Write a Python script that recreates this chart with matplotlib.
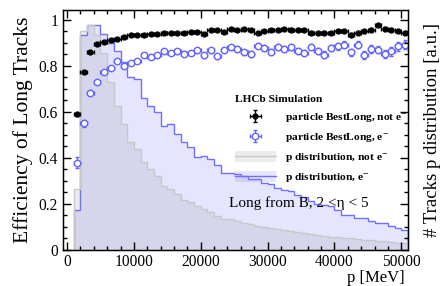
import numpy as np
import matplotlib
matplotlib.use("Agg")
import matplotlib.pyplot as plt
from matplotlib.patches import Patch
from matplotlib.lines import Line2D
from matplotlib.legend_handler import HandlerTuple
from matplotlib.ticker import MultipleLocator, NullFormatter

plt.rcParams["font.family"] = ["Liberation Serif", "DejaVu Serif"]
plt.rcParams["mathtext.fontset"] = "stix"

# momentum bins [MeV]
bin_edges = np.arange(1000, 52000, 1000)
bin_centres = 0.5 * (bin_edges[:-1] + bin_edges[1:])

# efficiency, not electrons
eff_not_e = [0.589, 0.775, 0.859, 0.897, 0.904, 0.911, 0.917, 0.925, 0.935, 0.935,
             0.935, 0.938, 0.940, 0.943, 0.943, 0.943, 0.945, 0.948, 0.948, 0.940,
             0.958, 0.955, 0.948, 0.962, 0.957, 0.962, 0.958, 0.943, 0.953, 0.955,
             0.957, 0.960, 0.958, 0.958, 0.955, 0.945, 0.943, 0.945, 0.943, 0.952,
             0.952, 0.935, 0.945, 0.950, 0.958, 0.976, 0.962, 0.958, 0.952, 0.943]
err_not_e = [0.008, 0.005, 0.004, 0.003, 0.003, 0.003, 0.003, 0.003, 0.003, 0.003,
             0.003, 0.003, 0.003, 0.003, 0.003, 0.003, 0.003, 0.003, 0.003, 0.003,
             0.004, 0.004, 0.004, 0.004, 0.004, 0.004, 0.004, 0.004, 0.004, 0.004,
             0.005, 0.005, 0.005, 0.005, 0.005, 0.005, 0.005, 0.005, 0.005, 0.005,
             0.006, 0.006, 0.006, 0.006, 0.006, 0.006, 0.006, 0.006, 0.006, 0.006]

# efficiency, electrons
eff_e = [0.380, 0.550, 0.684, 0.730, 0.773, 0.792, 0.820, 0.800, 0.813, 0.820,
         0.847, 0.838, 0.849, 0.863, 0.857, 0.863, 0.853, 0.857, 0.868, 0.846,
         0.868, 0.842, 0.868, 0.882, 0.874, 0.859, 0.852, 0.888, 0.878, 0.860,
         0.882, 0.874, 0.882, 0.864, 0.857, 0.882, 0.865, 0.849, 0.878, 0.885,
         0.892, 0.859, 0.892, 0.849, 0.874, 0.871, 0.853, 0.863, 0.885, 0.892]
err_e = [0.025, 0.015, 0.010, 0.009, 0.008, 0.008, 0.008, 0.008, 0.008, 0.008,
         0.009, 0.009, 0.009, 0.009, 0.009, 0.010, 0.010, 0.010, 0.010, 0.010,
         0.011, 0.011, 0.011, 0.011, 0.012, 0.012, 0.012, 0.012, 0.012, 0.013,
         0.013, 0.013, 0.013, 0.014, 0.014, 0.014, 0.014, 0.015, 0.015, 0.015,
         0.016, 0.016, 0.016, 0.017, 0.017, 0.017, 0.018, 0.018, 0.018, 0.019]

# p distributions (arbitrary units)
pdist_e = [0.174, 0.935, 0.978, 0.978, 0.940, 0.900, 0.863, 0.815, 0.750, 0.745,
           0.660, 0.626, 0.598, 0.540, 0.547, 0.504, 0.468, 0.448, 0.405, 0.410,
           0.397, 0.368, 0.336, 0.336, 0.330, 0.320, 0.310, 0.310, 0.290, 0.288,
           0.270, 0.262, 0.255, 0.240, 0.230, 0.215, 0.200, 0.195, 0.190, 0.174,
           0.152, 0.152, 0.138, 0.138, 0.128, 0.116, 0.116, 0.102, 0.095, 0.088]
pdist_not_e = [0.264, 0.950, 0.978, 0.935, 0.857, 0.730, 0.625, 0.547, 0.470, 0.440,
               0.383, 0.350, 0.320, 0.280, 0.265, 0.245, 0.217, 0.207, 0.190, 0.177,
               0.164, 0.148, 0.134, 0.134, 0.125, 0.118, 0.112, 0.106, 0.100, 0.095,
               0.090, 0.086, 0.082, 0.078, 0.073, 0.069, 0.065, 0.061, 0.058, 0.055,
               0.052, 0.050, 0.047, 0.045, 0.042, 0.040, 0.037, 0.035, 0.032, 0.030]

blue = "#6464ff"
blue_line = "#7070ff"

fig = plt.figure(figsize=(4.41, 2.86), dpi=100)
ax = fig.add_axes([0.143, 0.126, 0.782, 0.839])

# histograms
ax.stairs(pdist_e, bin_edges, fill=True, color=(0.5, 0.5, 1.0), alpha=0.2, lw=0)
ax.stairs(pdist_e, bin_edges, color=blue_line, lw=1.0)
ax.stairs(pdist_not_e, bin_edges, fill=True, color=(0.5, 0.5, 0.5), alpha=0.15, lw=0)
ax.stairs(pdist_not_e, bin_edges, color="#c8c8c8", lw=1.0)

# efficiencies
h_not_e = ax.errorbar(bin_centres, eff_not_e, yerr=err_not_e, xerr=500, fmt="o",
                      color="k", ms=3.5, lw=1.0, capsize=1.2)
h_e = ax.errorbar(bin_centres, eff_e, yerr=err_e, xerr=500, fmt="o", color=blue,
                  mfc="white", mec=blue, mew=1.0, ms=4.6, lw=1.0, capsize=1.2)

ax.set_xlim(-600, 51000)
ax.set_ylim(0, 1.043)
ax.xaxis.set_major_locator(MultipleLocator(10000))
ax.xaxis.set_minor_locator(MultipleLocator(2000))
ax.yaxis.set_major_locator(MultipleLocator(0.2))
ax.yaxis.set_minor_locator(MultipleLocator(0.05))
ax.set_yticks([0, 0.2, 0.4, 0.6, 0.8, 1.0], ["0", "0.2", "0.4", "0.6", "0.8", "1"])
ax.tick_params(which="both", direction="in", top=True, labelsize=11.2)
ax.tick_params(axis="x", pad=3)
ax.tick_params(which="major", length=6, width=1.0)
ax.tick_params(which="minor", length=3, width=1.0)
for s in ax.spines.values():
    s.set_linewidth(1.0)

ax.set_xlabel("p [MeV]", loc="right", fontsize=12)
ax.xaxis.set_label_coords(0.99, -0.085)
ax.set_ylabel("Efficiency of Long Tracks", fontsize=15.5, labelpad=4)

# right axis for the p distributions (no labels, ROOT style)
ax2 = ax.twinx()
ax2.set_ylim(ax.get_ylim())
ax2.yaxis.set_major_locator(MultipleLocator(0.2))
ax2.yaxis.set_minor_locator(MultipleLocator(0.05))
ax2.yaxis.set_major_formatter(NullFormatter())
ax2.tick_params(which="both", direction="in")
ax2.tick_params(which="major", length=6, width=1.0)
ax2.tick_params(which="minor", length=3, width=1.0)
ax2.set_ylabel("# Tracks p distribution [a.u.]", fontsize=13.5, labelpad=8)

h_pe = (Patch(facecolor=(0.5, 0.5, 1.0), alpha=0.2, lw=0), Line2D([], [], color=blue_line, lw=1.0))
h_pn = (Patch(facecolor=(0.5, 0.5, 0.5), alpha=0.15, lw=0), Line2D([], [], color="#c8c8c8", lw=1.0))

leg = ax.legend([h_not_e, h_e, h_pn, h_pe],
                ["particle BestLong, not e$^{-}$", "particle BestLong, e$^{-}$",
                 "p distribution, not e$^{-}$", "p distribution, e$^{-}$"],
                handler_map={tuple: HandlerTuple(ndivide=1)},
                loc="upper left", bbox_to_anchor=(0.475, 0.678), frameon=False,
                prop={"size": 8.2, "weight": "bold"}, title="LHCb Simulation",
                title_fontproperties={"size": 8.2, "weight": "bold"}, alignment="left",
                handlelength=3.6, handleheight=1.0, labelspacing=0.62, handletextpad=0.8,
                borderpad=0.2)

ax.text(0.48, 0.195, "Long from B, 2 <η < 5", transform=ax.transAxes, fontsize=11,
        ha="left", va="center")

fig.savefig("out.png", dpi=100)
